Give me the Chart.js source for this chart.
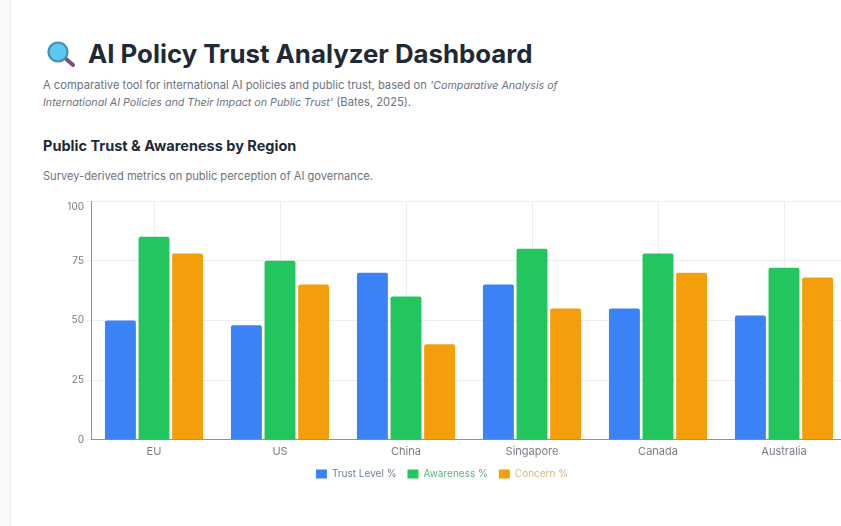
<!DOCTYPE html>
<html>
<head>
<meta charset="utf-8">
<title>AI Policy Trust Analyzer Dashboard</title>
<script src="https://cdn.jsdelivr.net/npm/chart.js@4"></script>
<style>
  html, body { margin: 0; height: 100%; background: #fff; overflow: hidden; font-family: Inter, "Noto Sans", sans-serif; }
  .rail { position: absolute; left: 0; top: 0; bottom: 0; width: 10px; background: #f8f9fa; border-right: 1px solid #eceef0; }
  .icon { position: absolute; left: 47px; top: 41px; }
  h1 { position: absolute; left: 88px; top: 37px; margin: 0; font-size: 25.8px; line-height: 34px; font-weight: 700; color: #1f2937; white-space: nowrap; }
  .intro { position: absolute; left: 43px; top: 77px; margin: 0; width: 530px; font-size: 11.2px; line-height: 17px; color: #6b7280; }
  .intro em { font-size: 10.7px; }
  h2 { position: absolute; left: 43px; top: 137px; margin: 0; font-size: 14.5px; line-height: 17px; font-weight: 700; color: #1f2937; white-space: nowrap; }
  .note { position: absolute; left: 43px; top: 169px; margin: 0; font-size: 11.1px; line-height: 14px; color: #6b7280; white-space: nowrap; }
  .chart-box { position: absolute; left: 37px; top: 187px; width: 810px; height: 302px; }
</style>
</head>
<body>
<div class="rail"></div>
<svg class="icon" width="28" height="26" viewBox="0 0 28 26">
  <line x1="18" y1="17" x2="26" y2="24" stroke="#7b4f86" stroke-width="4" stroke-linecap="round"/>
  <circle cx="11" cy="11" r="9.5" fill="#5cc8ee" stroke="#3e8fb5" stroke-width="2.2"/>
</svg>
<h1>AI Policy Trust Analyzer Dashboard</h1>
<p class="intro">A comparative tool for international AI policies and public trust, based on <em>'Comparative Analysis of International AI Policies and Their Impact on Public Trust'</em> (Bates, 2025).</p>
<h2>Public Trust &amp; Awareness by Region</h2>
<p class="note">Survey-derived metrics on public perception of AI governance.</p>
<div class="chart-box"><canvas id="trustChart"></canvas></div>
<script>
const regions = ["EU", "US", "China", "Singapore", "Canada", "Australia"];
const trustLevel = [50, 48, 70, 65, 55, 52];
const awareness = [85, 75, 60, 80, 78, 72];
const concern = [78, 65, 40, 55, 70, 68];

const blue = "#3b82f6";
const green = "#22c55e";
const amber = "#f59e0b";
const legendText = ["#6f7f9c", "#5fae80", "#d9b27a"];

const makeSeries = (label, data, color) => ({
  label: label,
  data: data,
  backgroundColor: color,
  borderRadius: 2,
  barPercentage: 0.92,
  categoryPercentage: 0.8,
});

new Chart(document.getElementById("trustChart"), {
  type: "bar",
  data: {
    labels: regions,
    datasets: [
      makeSeries("Trust Level %", trustLevel, blue),
      makeSeries("Awareness %", awareness, green),
      makeSeries("Concern %", concern, amber),
    ],
  },
  options: {
    responsive: true,
    maintainAspectRatio: false,
    animation: false,
    plugins: {
      tooltip: { enabled: false },
      legend: {
        position: "bottom",
        labels: {
          boxWidth: 11,
          boxHeight: 9,
          padding: 11,
          font: { family: "Inter", size: 10 },
          generateLabels(chart) {
            return Chart.defaults.plugins.legend.labels.generateLabels(chart).map((item, i) => {
              item.fontColor = legendText[i];
              return item;
            });
          },
        },
      },
    },
    scales: {
      x: {
        grid: { color: "#eceef1", tickLength: 5, offset: false },
        border: { color: "#8d9196" },
        ticks: { color: "#777c84", font: { family: "Inter", size: 11 }, padding: 0 },
      },
      y: {
        min: 0,
        max: 100,
        // wider gutter so the legend stays centred on the whole canvas
        afterFit: (scale) => { scale.width = 54; },
        grid: { color: "#eceef1", tickLength: 5 },
        border: { color: "#8d9196" },
        ticks: {
          stepSize: 25,
          color: "#777c84",
          font: { family: "Inter", size: 10 },
          padding: 2,
          // top label sits just under the axis end
          callback: (value) => (value === 100 ? ["", "100"] : String(value)),
        },
      },
    },
  },
});
</script>
</body>
</html>
